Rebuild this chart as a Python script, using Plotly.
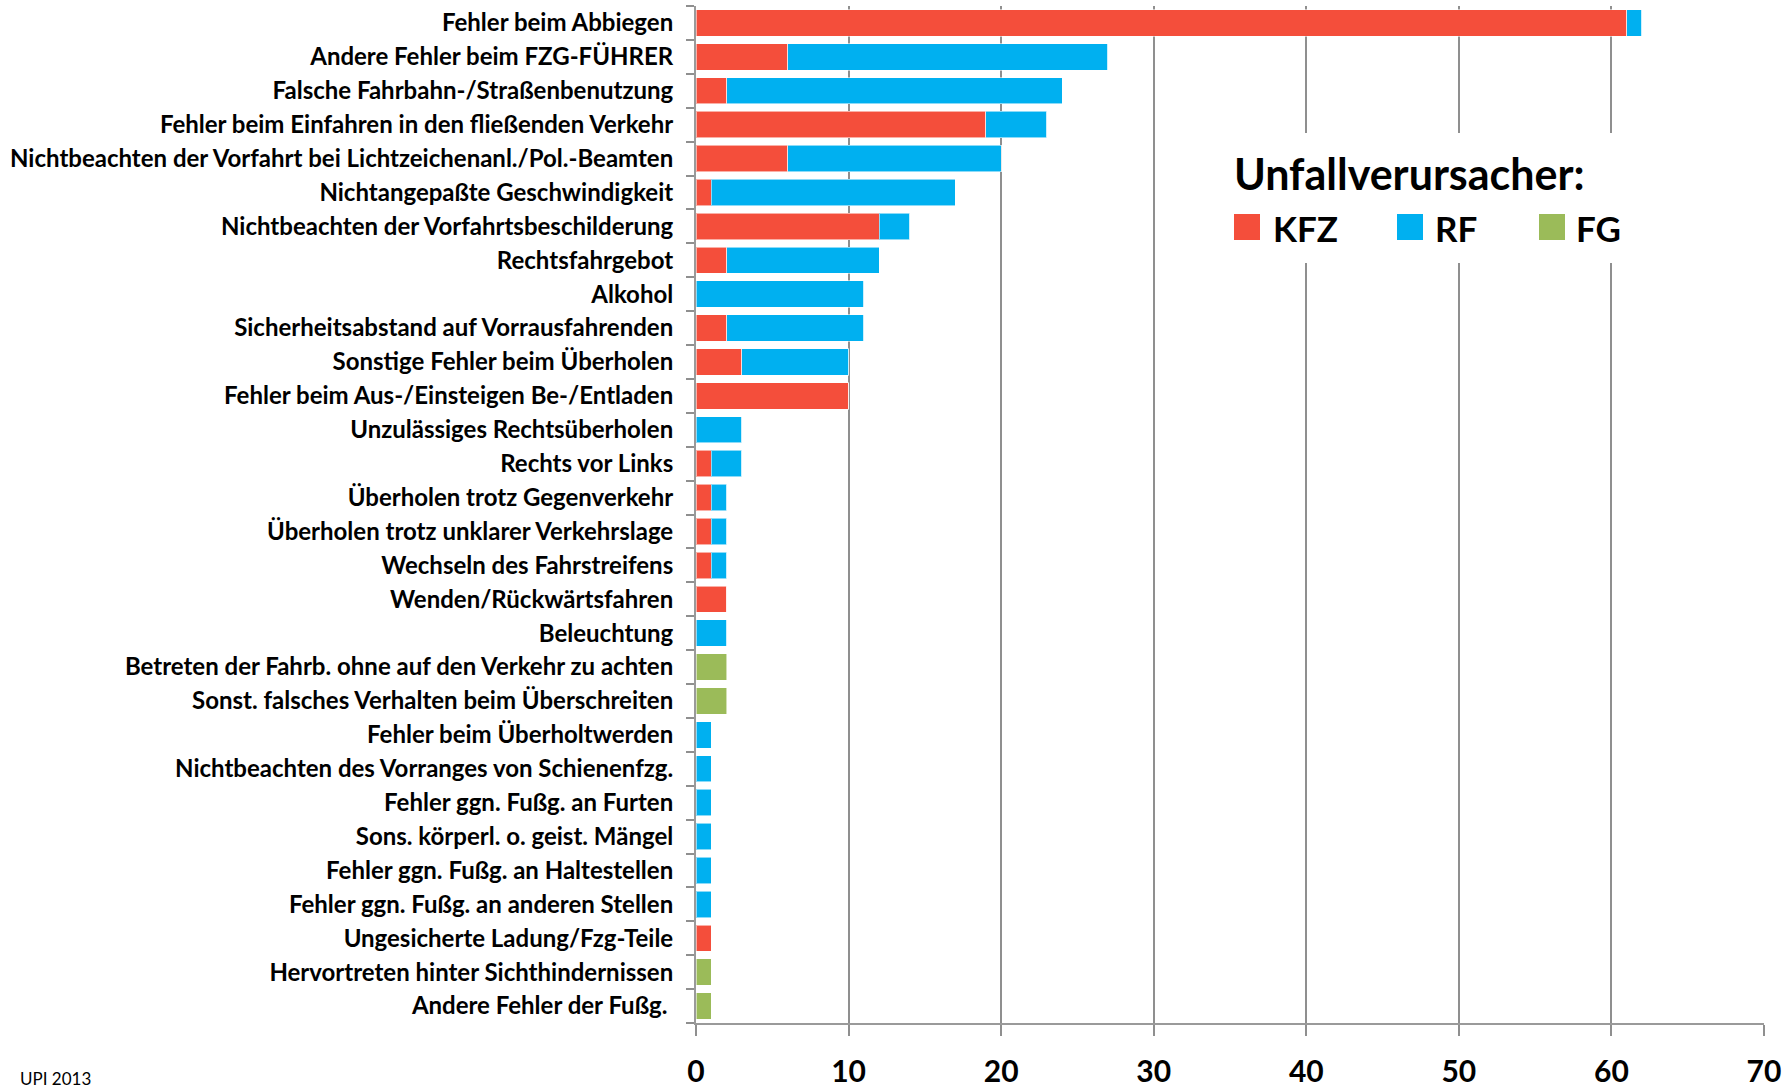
import plotly.graph_objects as go

categories = [
    "Fehler beim Abbiegen",
    "Andere Fehler beim FZG-FÜHRER",
    "Falsche Fahrbahn-/Straßenbenutzung",
    "Fehler beim Einfahren in den fließenden Verkehr",
    "Nichtbeachten der Vorfahrt bei Lichtzeichenanl./Pol.-Beamten",
    "Nichtangepaßte Geschwindigkeit",
    "Nichtbeachten der Vorfahrtsbeschilderung",
    "Rechtsfahrgebot",
    "Alkohol",
    "Sicherheitsabstand auf Vorrausfahrenden",
    "Sonstige Fehler beim Überholen",
    "Fehler beim Aus-/Einsteigen Be-/Entladen",
    "Unzulässiges Rechtsüberholen",
    "Rechts vor Links",
    "Überholen trotz Gegenverkehr",
    "Überholen trotz unklarer Verkehrslage",
    "Wechseln des Fahrstreifens",
    "Wenden/Rückwärtsfahren",
    "Beleuchtung",
    "Betreten der Fahrb. ohne auf den Verkehr zu achten",
    "Sonst. falsches Verhalten beim Überschreiten",
    "Fehler beim Überholtwerden",
    "Nichtbeachten des Vorranges von Schienenfzg.",
    "Fehler ggn. Fußg. an Furten",
    "Sons. körperl. o. geist. Mängel",
    "Fehler ggn. Fußg. an Haltestellen",
    "Fehler ggn. Fußg. an anderen Stellen",
    "Ungesicherte Ladung/Fzg-Teile",
    "Hervortreten hinter Sichthindernissen",
    "Andere Fehler der Fußg. ",
]

kfz = [61, 6, 2, 19, 6, 1, 12, 2, 0, 2, 3, 10, 0, 1, 1, 1, 1, 2, 0, 0, 0, 0, 0, 0, 0, 0, 0, 1, 0, 0]
rf = [1, 21, 22, 4, 14, 16, 2, 10, 11, 9, 7, 0, 3, 2, 1, 1, 1, 0, 2, 0, 0, 1, 1, 1, 1, 1, 1, 0, 0, 0]
fg = [0, 0, 0, 0, 0, 0, 0, 0, 0, 0, 0, 0, 0, 0, 0, 0, 0, 0, 0, 2, 2, 0, 0, 0, 0, 0, 0, 0, 1, 1]

series_names = ["KFZ", "RF", "FG"]
colors = ["#F44E3B", "#00B0F0", "#9BBB59"]
x_ticks = [0, 10, 20, 30, 40, 50, 60, 70]
legend_title = "Unfallverursacher:"
source_note = "UPI 2013"

W, H = 1787, 1091
ML, MR, MT, MB = 696, 23, 6, 68
PW = W - ML - MR
PH = H - MT - MB

def px(x):
    return (x - ML) / PW

def py(y):
    return (H - MB - y) / PH

tick_text = [c.rstrip() + ("\u00a0" if c.endswith(" ") else "") for c in categories]

fig = go.Figure()
for name, vals, col in zip(series_names, [kfz, rf, fg], colors):
    fig.add_trace(go.Bar(
        y=categories, x=vals, name=name, orientation="h",
        marker=dict(color=col, line=dict(color="rgba(255,255,255,0.55)", width=1)),
        showlegend=False,
    ))

fig.update_layout(
    barmode="stack",
    bargap=0.22,
    width=W, height=H,
    margin=dict(l=ML, r=MR, t=MT, b=MB, autoexpand=False),
    paper_bgcolor="white",
    plot_bgcolor="white",
    font=dict(family="Lato", color="black"),
    xaxis=dict(
        range=[0, 70], tickvals=x_ticks, showgrid=True,
        gridcolor="#8F8F8F", gridwidth=1.5,
        showline=True, linecolor="#9A9A9A", linewidth=2,
        ticks="outside", ticklen=11, tickcolor="#8F8F8F", tickwidth=1.5,
        tickfont=dict(size=30, family="Lato", weight="bold", color="black"),
        ticklabelstandoff=10,
        zeroline=False,
    ),
    yaxis=dict(
        categoryorder="array", categoryarray=categories,
        autorange="reversed",
        tickvals=categories, ticktext=tick_text,
        showgrid=False, showline=True, linecolor="#9A9A9A", linewidth=2,
        ticks="outside", ticklen=8, tickcolor="#8F8F8F", tickwidth=2,
        tickson="boundaries",
        tickfont=dict(size=24, family="Lato", weight="bold", color="black"),
        ticklabelstandoff=16,
    ),
)

# legend box (manual)
fig.add_shape(type="rect", xref="paper", yref="paper",
              x0=px(1200), x1=px(1700), y0=py(263), y1=py(133),
              fillcolor="white", line=dict(width=0), layer="above")
fig.add_annotation(xref="paper", yref="paper", x=px(1232), y=py(173),
                   xanchor="left", yanchor="middle", showarrow=False,
                   text=legend_title,
                   font=dict(size=43, family="Lato", weight="bold", color="black"))
sq = [(1234, 1273), (1397, 1435), (1539, 1576)]
for (sx, tx), name, col in zip(sq, series_names, colors):
    fig.add_shape(type="rect", xref="paper", yref="paper",
                  x0=px(sx), x1=px(sx + 26), y0=py(240), y1=py(214),
                  fillcolor=col, line=dict(width=0), layer="above")
    fig.add_annotation(xref="paper", yref="paper", x=px(tx - 2), y=py(228),
                       xanchor="left", yanchor="middle", showarrow=False,
                       text=name,
                       font=dict(size=35, family="Lato", weight="bold", color="black"))

fig.add_annotation(xref="paper", yref="paper", x=px(18), y=py(1066),
                   xanchor="left", yanchor="top", showarrow=False,
                   text=source_note,
                   font=dict(size=17, family="Lato", color="black"))

fig.write_html("out.html", config={"displayModeBar": False},
               post_script="document.body.style.margin='0';document.body.style.overflow='hidden';")
